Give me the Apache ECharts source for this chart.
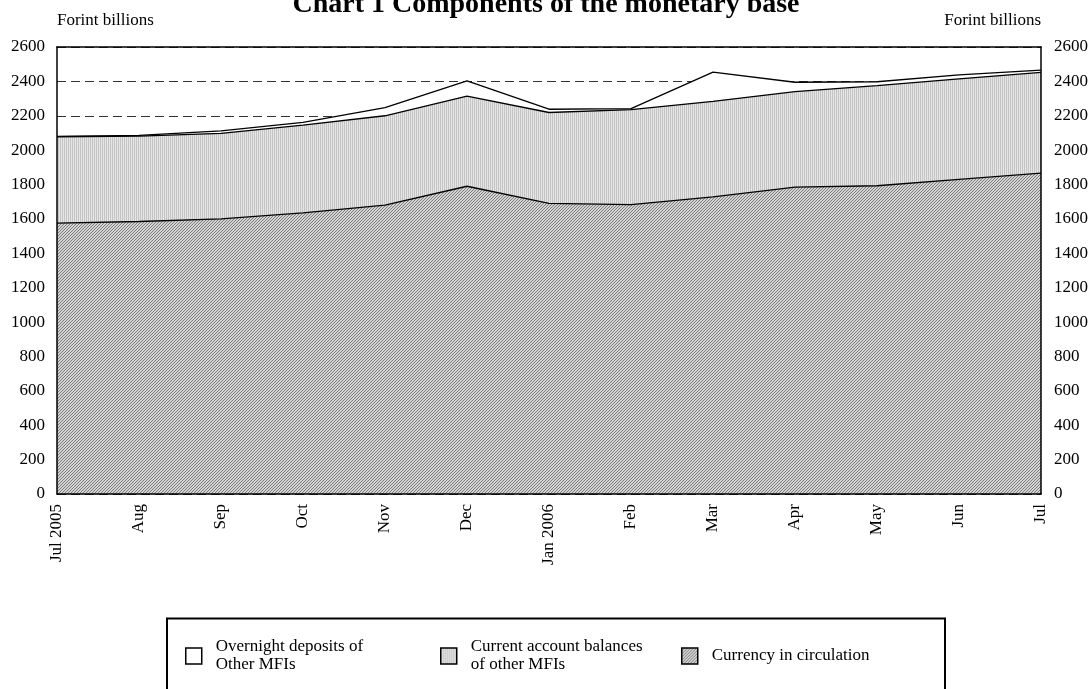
<!DOCTYPE html>
<html>
<head>
<meta charset="utf-8">
<script src="https://cdn.jsdelivr.net/npm/echarts@6/dist/echarts.min.js"></script>
<style>
  html, body { margin: 0; padding: 0; background: #fff; }
  #chart { width: 1092px; height: 689px; }
</style>
</head>
<body>
<div id="chart"></div>
<script>
// Monthly categories, July 2005 to July 2006
const categories = ['Jul 2005', 'Aug', 'Sep', 'Oct', 'Nov', 'Dec', 'Jan 2006', 'Feb', 'Mar', 'Apr', 'May', 'Jun', 'Jul'];

// Components of the monetary base, HUF billions (stacked bottom to top)
const currencyInCirculation = [1575, 1585, 1600, 1635, 1680, 1790, 1690, 1683, 1728, 1785, 1793, 1830, 1866];
const currentAccountBalances = [503, 497, 498, 510, 520, 524, 529, 553, 556, 555, 582, 585, 586];
const overnightDeposits = [2, 4, 14, 17, 48, 89, 19, 6, 170, 55, 23, 23, 13];

// Value axis ticks
const yMin = 0;
const yMax = 2600;
const yStep = 200;

const seriesNames = ['Currency in circulation', 'Current account balances of other MFIs', 'Overnight deposits of Other MFIs'];
const legendTexts = {
  'Overnight deposits of Other MFIs': 'Overnight deposits of\nOther MFIs',
  'Current account balances of other MFIs': 'Current account balances\nof other MFIs',
  'Currency in circulation': 'Currency in circulation'
};

const FONT = '"Liberation Serif", "Times New Roman", serif';

// Small tiled canvases used as hatch fills
function makeTile(w, h, draw) {
  const c = document.createElement('canvas');
  c.width = w; c.height = h;
  const ctx = c.getContext('2d');
  draw(ctx);
  return c;
}
const diagonalHatch = makeTile(3, 3, ctx => {
  ctx.fillStyle = '#d4d4d4';
  ctx.fillRect(0, 0, 3, 3);
  ctx.fillStyle = '#7c7c7c';
  for (let i = 0; i < 3; i++) ctx.fillRect(i, 2 - i, 1, 1);
});
const verticalHatch = makeTile(2, 2, ctx => {
  ctx.fillStyle = '#e6e6e6';
  ctx.fillRect(0, 0, 2, 2);
  ctx.fillStyle = '#c4c4c4';
  ctx.fillRect(0, 0, 1, 2);
});
const currencyFill = { image: diagonalHatch, repeat: 'repeat' };
const currentFill = { image: verticalHatch, repeat: 'repeat' };

function areaSeries(name, data, fill) {
  return {
    name: name,
    type: 'line',
    stack: 'base',
    data: data,
    symbol: 'none',
    lineStyle: { color: '#000', width: 1.3 },
    itemStyle: { color: fill, borderColor: '#000' },
    areaStyle: { color: fill, opacity: 1 },
    emphasis: { disabled: true },
    animation: false
  };
}

function legendAt(name, left, top) {
  return {
    data: [name],
    left: left,
    top: top,
    padding: 0,
    icon: 'rect',
    itemWidth: 16,
    itemHeight: 16,
    itemGap: 0,
    selectedMode: false,
    itemStyle: { borderColor: '#000', borderWidth: 1.5 },
    formatter: n => legendTexts[n],
    textStyle: { fontFamily: FONT, fontSize: 17, color: '#000', lineHeight: 18, padding: [0, 0, 0, 9] }
  };
}

const plainNumber = v => String(v);
const frameLine = { show: true, onZero: false, lineStyle: { color: '#000', width: 1.5 } };

const chart = echarts.init(document.getElementById('chart'), null, { renderer: 'canvas' });

chart.setOption({
  backgroundColor: '#fff',
  animation: false,
  grid: { left: 57, right: 51, top: 47, bottom: 195, containLabel: false },
  xAxis: [
    {
      type: 'category',
      data: categories,
      boundaryGap: false,
      z: 10,
      axisLine: frameLine,
      axisTick: { show: false },
      axisLabel: { rotate: 90, margin: 10, fontFamily: FONT, fontSize: 17, color: '#000', interval: 0 },
      splitLine: { show: false }
    },
    {
      // top frame edge
      type: 'category',
      data: categories,
      position: 'top',
      boundaryGap: false,
      z: 10,
      axisLine: frameLine,
      axisTick: { show: false },
      axisLabel: { show: false },
      splitLine: { show: false }
    }
  ],
  yAxis: [
    {
      // left scale with the dashed gridlines, kept beneath the areas
      type: 'value',
      min: yMin, max: yMax, interval: yStep,
      position: 'left',
      z: 0,
      axisLine: { show: false },
      axisTick: { show: false },
      axisLabel: { margin: 12, fontFamily: FONT, fontSize: 17, color: '#000', formatter: plainNumber },
      splitLine: { show: true, lineStyle: { color: '#333', width: 1, type: [9, 5] } }
    },
    {
      type: 'value',
      min: yMin, max: yMax, interval: yStep,
      position: 'right',
      z: 10,
      axisLine: frameLine,
      axisTick: { show: false },
      axisLabel: { margin: 13, fontFamily: FONT, fontSize: 17, color: '#000', formatter: plainNumber },
      splitLine: { show: false }
    },
    {
      // left frame edge drawn over the areas
      type: 'value',
      min: yMin, max: yMax, interval: yStep,
      position: 'left',
      z: 10,
      axisLine: frameLine,
      axisTick: { show: false },
      axisLabel: { show: false },
      splitLine: { show: false }
    }
  ],
  legend: [
    legendAt(seriesNames[2], 185, 638),
    legendAt(seriesNames[1], 440, 638),
    legendAt(seriesNames[0], 681, 647)
  ],
  graphic: [
    {
      type: 'text', left: 'center', top: -9,
      style: { text: 'Chart 1 Components of the monetary base', font: 'bold 28px ' + FONT, fill: '#000' }
    },
    {
      type: 'text', x: 57, y: 21,
      style: { text: 'Forint billions', font: '17px ' + FONT, fill: '#000', align: 'left', verticalAlign: 'middle' }
    },
    {
      type: 'text', x: 1041, y: 21,
      style: { text: 'Forint billions', font: '17px ' + FONT, fill: '#000', align: 'right', verticalAlign: 'middle' }
    },
    {
      type: 'rect', shape: { x: 167, y: 618.5, width: 778, height: 100 },
      style: { fill: 'none', stroke: '#000', lineWidth: 2 }, z: 100
    }
  ],
  series: [
    areaSeries(seriesNames[0], currencyInCirculation, currencyFill),
    areaSeries(seriesNames[1], currentAccountBalances, currentFill),
    areaSeries(seriesNames[2], overnightDeposits, '#fff')
  ]
});
</script>
</body>
</html>
